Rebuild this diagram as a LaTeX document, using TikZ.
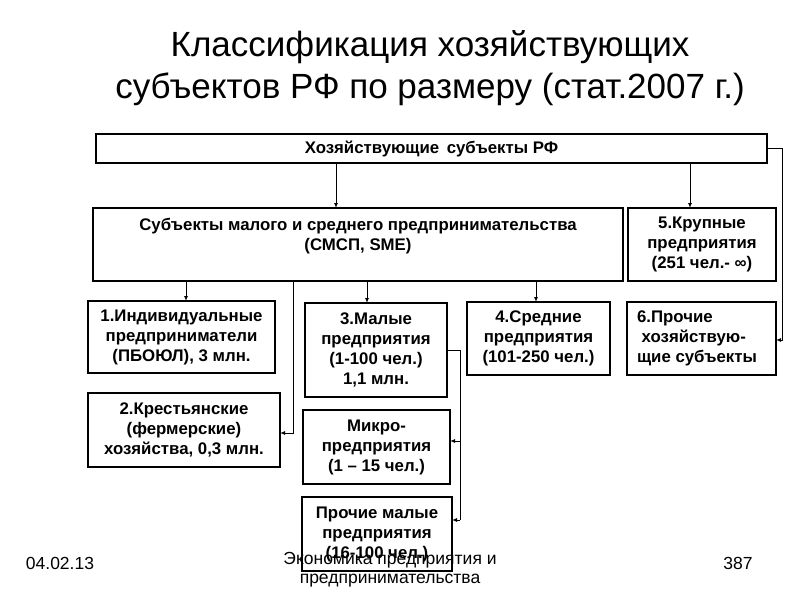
\documentclass[tikz,border=0pt]{standalone}
\usepackage{fontspec}
\setmainfont{Liberation Sans}
\usetikzlibrary{arrows.meta}
\begin{document}
\begin{tikzpicture}[x=1pt,y=-1pt,
  bf/.style={font=\bfseries\fontsize{16.8}{20}\selectfont,align=center},
  ar/.style={line width=1pt,-{Latex[length=5pt,width=4pt]}},
  ln/.style={line width=1pt}]
\useasboundingbox (0,0) rectangle (800,600);
\node[font=\fontsize{35}{42}\selectfont,align=center] (title) at (430,68) {Классификация хозяйствующих\\субъектов РФ по размеру (стат.2007 г.)};
\draw[line width=1.2pt] (96,134) rectangle (767,163);
\node[bf] (top) at (431.5,148.5) {Хозяйствующие\, субъекты РФ};
\coordinate (topr) at (767,148);
\draw[line width=1.2pt] (93,208) rectangle (623,281);
\node[bf] (sme) at (358,236) {Субъекты малого и среднего предпринимательства\\(СМСП, SME)};
\draw[line width=1.2pt] (628,208) rectangle (776,281);
\node[bf] (b5) at (702,244.5) {5.Крупные\\предприятия\\(251 чел.- ∞)};
\draw[line width=1.2pt] (88,301) rectangle (275,373);
\node[bf] (b1) at (181.5,337) {1.Индивидуальные\\предприниматели\\(ПБОЮЛ), 3 млн.};
\draw[line width=1.2pt] (305,303) rectangle (447,397);
\node[bf] (b3) at (376,350) {3.Малые\\предприятия\\(1-100 чел.)\\1,1 млн.};
\draw[line width=1.2pt] (467,302) rectangle (610,375);
\node[bf] (b4) at (538.5,338.5) {4.Средние\\предприятия\\(101-250 чел.)};
\draw[line width=1.2pt] (627,302) rectangle (776,375);
\node[bf,align=left] (b6) at (697,338.5) {6.Прочие\\\ хозяйствую-\\щие субъекты};
\draw[line width=1.2pt] (88,393) rectangle (280,467);
\node[bf] (b2) at (184,430) {2.Крестьянские\\(фермерские)\\хозяйства, 0,3 млн.};
\draw[line width=1.2pt] (303,410) rectangle (450,484);
\node[bf] (mic) at (376.5,447) {Микро-\\предприятия\\(1 – 15 чел.)};
\draw[line width=1.2pt] (302,497) rectangle (452,571);
\node[bf] (oth) at (377,534) {Прочие малые\\предприятия\\(16-100 чел.)};
% arrows
\draw[ar] (336,163) -- (336,208);
\draw[ar] (690,163) -- (690,208);
\draw[ar] (topr) -- (782,148) -- (782,340) -- (776,340);
\draw[ar] (186,281) -- (186,301);
\draw[ar] (367,281) -- (367,303);
\draw[ar] (536,281) -- (536,302);
\draw[ar] (293,281) -- (293,433) -- (280,433);
\draw[ln] (447,350) -- (460,350) -- (460,520);
\draw[ar] (460,441) -- (450,441);
\draw[ar] (460,520) -- (452,520);
% footer
\node[font=\fontsize{17.5}{19}\selectfont] (d) at (60,563) {04.02.13};
\node[font=\fontsize{17.5}{19}\selectfont,align=center] (f) at (390,570) {Экономика предприятия и\\предпринимательства};
\node[font=\fontsize{17.5}{19}\selectfont] (p) at (738,563) {387};
\end{tikzpicture}
\end{document}
